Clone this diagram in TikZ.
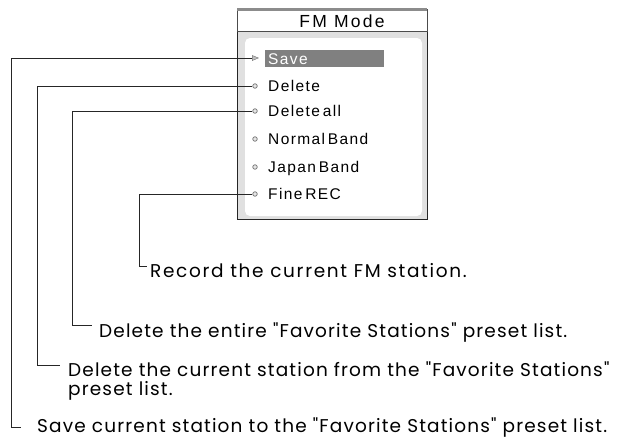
\documentclass[tikz,border=0pt]{standalone}
\usepackage{fontspec}
\setmainfont{Liberation Sans}
\newfontfamily\menufont[LetterSpace=9,WordSpace=0.5]{Liberation Sans}
\newfontfamily\titlefont[LetterSpace=13]{Liberation Sans}
\newfontfamily\descfont[LetterSpace=6.2]{Poppins}
\newfontfamily\recfont[LetterSpace=9]{Poppins}
\usetikzlibrary{positioning}
\usetikzlibrary{shapes.geometric}

\begin{document}
\begin{tikzpicture}[x=1pt,y=-1pt,
  conn/.style={draw=black!85, line width=0.8pt},
  item/.style={anchor=base west, inner sep=0pt, font=\menufont\fontsize{15.5}{17}\selectfont},
  desc/.style={anchor=base west, inner sep=0pt, font=\descfont\fontsize{18.5}{20}\selectfont},
  dot/.style={circle, draw=black!55, fill=black!10, line width=0.7pt, inner sep=0pt, minimum size=4.5pt}]

\useasboundingbox (0,0) rectangle (624,437);

% Draw the screen of the player
\fill[black!12] (237,31) rectangle (427,219);
\fill[white, rounded corners=5pt] (245,38) rectangle (422,216);
\draw[black!85, line width=0.8pt] (237,31) rectangle (427,219);
\draw[black!70, fill=white, line width=0.8pt] (237,9) rectangle (427,31);
\fill[black!45] (237,8) rectangle (427,11);
\node[font=\titlefont\fontsize{17.5}{19}\selectfont, inner sep=0pt] (title) at (342,21.5) {FM Mode};

% menu entries
\fill[black!50] (265,50) rectangle (384,67);
\node[isosceles triangle, draw=black!55, fill=black!25, inner sep=0pt, minimum size=5pt] (m1) at (254,58) {};
\node[item, text=white] (i1) at (268,64) {Save};
\foreach \y/\name/\txt in {86/2/Delete, 111/3/Delete all, 139/4/Normal Band, 167/5/Japan Band, 194/6/Fine REC}
{
  \node[dot] (m\name) at (255,\y) {};
  \node[item] (i\name) at (268,\y+5.5) {\txt};
}

% the explanations
\node[desc] (d1) at (37,432) {Save current station to the "Favorite Stations" preset list.};
\node[desc] (d2) at (68,376) {Delete the current station from the "Favorite Stations"};
\node[desc] (d2b) at ([yshift=-19pt]d2.base west) {preset list.};
\node[desc] (d3) at (99,337) {Delete the entire "Favorite Stations" preset list.};
\node[desc, font=\recfont\fontsize{18.5}{20}\selectfont] (d4) at (150,277) {Record the current FM station.};

\coordinate (c1) at (11,427);
\coordinate (c2) at (37,365);
\coordinate (c3) at (72,325);
\coordinate (c4) at (139,266);

\draw[conn, shorten >=16pt] (m1.west) -| (c1) -- (c1 -| d1.west);
\draw[conn, shorten >=8pt] (m2.west) -| (c2) -- (c2 -| d2.west);
\draw[conn, shorten >=7pt] (m3.west) -| (c3) -- (c3 -| d3.west);
\draw[conn, shorten >=3pt] (m6.west) -| (c4) -- (c4 -| d4.west);

\end{tikzpicture}
\end{document}
